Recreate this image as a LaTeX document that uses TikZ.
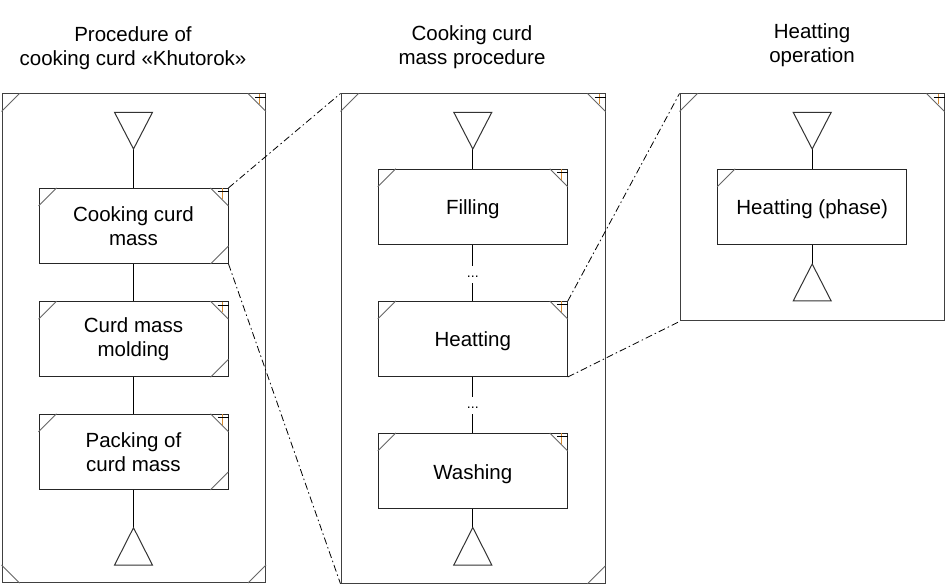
\documentclass[tikz,border=0pt]{standalone}
\usepackage{fontspec}
\setmainfont{Liberation Sans}
\begin{document}
\begin{tikzpicture}[x=1pt,y=-1pt,
  frame/.style={draw=black!75, line width=1pt, inner sep=0pt, minimum width=#1},
  box/.style={draw=black!85, line width=1pt, fill=white, inner sep=0pt, minimum width=189pt, minimum height=75pt, align=center, font=\fontsize{20.5}{24}\selectfont},
  one/.style={text height=18pt, text depth=2pt},
  ttl/.style={align=center, font=\fontsize{20.5}{24}\selectfont},
  cmark/.style={draw=black!60, line width=0.9pt},
  conn/.style={draw=black, line width=1pt},
  tri/.style={draw=black!80, line width=1pt, fill=white, line join=miter},
  zoomline/.style={draw=black, line width=0.8pt, dash pattern=on 7pt off 3pt on 1.5pt off 3pt},
  dots/.style={inner sep=0pt, minimum height=17pt, text height=7pt, text depth=0pt, font=\fontsize{14}{14}\selectfont}
]
\newcommand\mkTL[1]{\draw[cmark] ([shift={(0,18)}]#1.north west) -- ([shift={(18,0)}]#1.north west);}
\newcommand\mkTR[1]{\draw[cmark] ([shift={(-18,0)}]#1.north east) -- ([shift={(0,18)}]#1.north east);}
\newcommand\mkBL[1]{\draw[cmark] ([shift={(0,-18)}]#1.south west) -- ([shift={(18,0)}]#1.south west);}
\newcommand\mkBR[1]{\draw[cmark] ([shift={(-18,0)}]#1.south east) -- ([shift={(0,-18)}]#1.south east);}
\newcommand\mkPlus[1]{%
  \draw[line width=1pt, draw={rgb,255:red,215;green,140;blue,50}] ([shift={(-6.5,0.5)}]#1.north east) -- ([shift={(-6.5,11)}]#1.north east);
  \draw[line width=1pt, black] ([shift={(-11,4)}]#1.north east) -- ([shift={(0,4)}]#1.north east);}
\newcommand\mkTopTri[1]{\draw[tri] (#1) -- ++(-19,-36.7) -- ++(38,0) -- cycle;}
\newcommand\mkBotTri[1]{\draw[tri] (#1) -- ++(-19,37.5) -- ++(38,0) -- cycle;}

\useasboundingbox (0,0) rectangle (946,585);
\fill[white] (0,0) rectangle (946,585);

% titles
\node[ttl] (t1) at (133,48.5) {Procedure of\\cooking curd «Khutorok»};
\node[ttl] (t2) at (472,47.5) {Cooking curd\\mass procedure};
\node[ttl] (t3) at (812,45.5) {Heatting\\operation};

% frames
\node[frame=263.5pt, minimum height=488.5pt] (L) at (133.75,338.25) {};
\node[frame=264pt, minimum height=489.3pt] (M) at (473,338.65) {};
\node[frame=264pt, minimum height=227pt] (R) at (812,207.5) {};

% left panel
\node[box] (L1) at (133.5,225.9) {Cooking curd\\mass};
\node[box] (L2) at (133.5,339.2) {Curd mass\\molding};
\node[box] (L3) at (133.5,451.8) {Packing of\\curd mass};
\coordinate (Ls) at (133.5,149);
\coordinate (Le) at (133.5,527.7);
\draw[conn] (Ls) -- (L1.north);
\draw[conn] (L1.south) -- (L2.north);
\draw[conn] (L2.south) -- (L3.north);
\draw[conn] (L3.south) -- (Le);
\mkTopTri{Ls}
\mkBotTri{Le}

% middle panel
\node[box,one] (M1) at (472.8,206.8) {Filling};
\node[box,one] (M2) at (472.8,339) {Heatting};
\node[box,one] (M3) at (472.8,471) {Washing};
\node[dots] (d1) at (472.8,274.5) {...};
\node[dots] (d2) at (472.8,405.5) {...};
\coordinate (Ms) at (472.8,149);
\coordinate (Me) at (472.8,527.5);
\draw[conn] (Ms) -- (M1.north);
\draw[conn] (M1.south) -- (d1.north);
\draw[conn] (d1.south) -- (M2.north);
\draw[conn] (M2.south) -- (d2.north);
\draw[conn] (d2.south) -- (M3.north);
\draw[conn] (M3.south) -- (Me);
\mkTopTri{Ms}
\mkBotTri{Me}

% right panel
\node[box,one] (R1) at (812.2,206.8) {Heatting (phase)};
\coordinate (Rs) at (812.2,149);
\coordinate (Re) at (812.2,264);
\draw[conn] (Rs) -- (R1.north);
\draw[conn] (R1.south) -- (Re);
\mkTopTri{Rs}
\draw[tri] (Re) -- ++(-19,37) -- ++(38,0) -- cycle;

% corner marks: frames
\mkTL{L}\mkTR{L}\mkBL{L}\mkBR{L}\mkPlus{L}
\mkTL{M}\mkTR{M}\mkBR{M}\mkPlus{M}
\mkTL{R}\mkTR{R}\mkPlus{R}
% corner marks: boxes
\foreach \b in {L1,L2,L3}{\mkTL{\b}\mkTR{\b}\mkBR{\b}\mkPlus{\b}}
\foreach \b in {M1,M2,M3}{\mkTL{\b}\mkTR{\b}\mkPlus{\b}}
\mkTL{R1}

% zoom lines
\draw[zoomline] (L1.north east) -- (M.north west);
\draw[zoomline] (L1.south east) -- (M.south west);
\draw[zoomline] (M2.north east) -- (R.north west);
\draw[zoomline] (M2.south east) -- (R.south west);
\end{tikzpicture}
\end{document}
